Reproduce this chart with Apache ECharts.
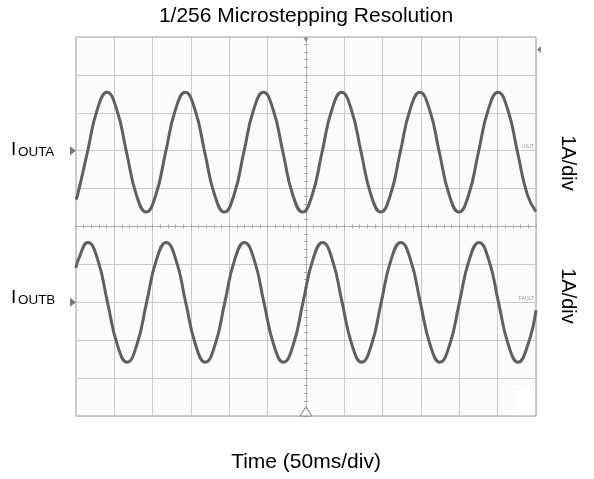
<!DOCTYPE html>
<html>
<head>
<meta charset="utf-8">
<script src="https://cdn.jsdelivr.net/npm/echarts@6/dist/echarts.min.js"></script>
<style>html,body{margin:0;padding:0;background:#fff}#c{width:594px;height:479px}</style>
</head>
<body>
<div id="c"></div>
<script>
// Time in ms (50 ms/div), current in divisions (1 A/div), channel A offset +2 div, channel B offset -2 div
var timeA = [0, 2.2, 14.9, 27.7, 40.4, 53.2, 65.9, 78.7, 91.4, 104.2, 116.9, 129.7, 142.4, 155.2, 167.9, 180.7, 193.4, 206.2, 218.9, 231.7, 244.4, 257.2, 269.9, 282.7, 295.4, 308.2, 320.9, 333.7, 346.4, 359.2, 371.9, 384.7, 397.4, 410.2, 422.9, 435.7, 448.4, 461.2, 473.9, 486.7, 499.4, 512.2, 524.9, 537.7, 550.4, 563.2, 575.9, 588.7, 600];
var ioutA = [0.71,
  0.84, 1.96, 3.08, 3.54, 3.08, 1.96, 0.84, 0.38,
  0.84, 1.96, 3.08, 3.54, 3.08, 1.96, 0.84, 0.38,
  0.84, 1.96, 3.08, 3.54, 3.08, 1.96, 0.84, 0.38,
  0.84, 1.96, 3.08, 3.54, 3.08, 1.96, 0.84, 0.38,
  0.84, 1.96, 3.08, 3.54, 3.08, 1.96, 0.84, 0.38,
  0.84, 1.96, 3.08, 3.54, 3.08, 1.96, 0.84,
  0.39];
var timeB = [0, 2.9, 15.6, 28.4, 41.1, 53.9, 66.6, 79.4, 92.1, 104.9, 117.6, 130.4, 143.1, 155.9, 168.6, 181.4, 194.1, 206.9, 219.6, 232.4, 245.1, 257.9, 270.6, 283.4, 296.1, 308.9, 321.6, 334.4, 347.1, 359.9, 372.6, 385.4, 398.1, 410.9, 423.6, 436.4, 449.1, 461.9, 474.6, 487.4, 500.1, 512.9, 525.6, 538.4, 551.1, 563.9, 576.6, 589.4, 600];
var ioutB = [-1.09,
  -0.88, -0.42, -0.88, -2.0, -3.12, -3.58, -3.12, -2.0,
  -0.88, -0.42, -0.88, -2.0, -3.12, -3.58, -3.12, -2.0,
  -0.88, -0.42, -0.88, -2.0, -3.12, -3.58, -3.12, -2.0,
  -0.88, -0.42, -0.88, -2.0, -3.12, -3.58, -3.12, -2.0,
  -0.88, -0.42, -0.88, -2.0, -3.12, -3.58, -3.12, -2.0,
  -0.88, -0.42, -0.88, -2.0, -3.12, -3.58, -3.12,
  -2.21];
var channelOffsets = [2, -2];
var titleText = '1/256 Microstepping Resolution';
var xTitle = 'Time (50ms/div)';
var scaleLabel = '1A/div';

var FONT = '"Liberation Sans", Arial, sans-serif';
var chart = echarts.init(document.getElementById('c'), null, {renderer: 'canvas'});
var rect = {left: 76, top: 37, width: 460, height: 379};
function pairs(t, v) { return t.map(function (x, i) { return [x, v[i]]; }); }
var tickAxisCommon = {
  axisLabel: {show: false}, splitLine: {show: false},
  axisLine: {show: true, onZero: true, lineStyle: {color: '#b0b0b0', width: 1}},
  axisTick: {show: true, length: 2, lineStyle: {color: '#a8a8a8'}}
};
var option = {
  animation: false,
  backgroundColor: '#ffffff',
  grid: [
    Object.assign({show: true, backgroundColor: '#fbfbfb', borderColor: '#9c9c9c', borderWidth: 1}, rect),
    Object.assign({show: false}, rect),
    Object.assign({show: false}, rect)
  ],
  xAxis: [
    {type: 'value', gridIndex: 0, min: 0, max: 600, interval: 50,
     axisLine: {show: false}, axisTick: {show: false}, axisLabel: {show: false},
     splitLine: {show: true, lineStyle: {color: '#c9c9c9', width: 1}}},
    Object.assign({type: 'value', gridIndex: 1, min: -300, max: 300, interval: 10}, tickAxisCommon,
     {axisTick: {show: true, inside: false, length: 2, lineStyle: {color: '#a8a8a8'}}}),
    Object.assign({type: 'value', gridIndex: 2, min: -300, max: 300, interval: 10}, tickAxisCommon,
     {axisTick: {show: true, inside: true, length: 2, lineStyle: {color: '#a8a8a8'}}})
  ],
  yAxis: [
    {type: 'value', gridIndex: 0, min: -5, max: 5, interval: 1,
     axisLine: {show: false}, axisTick: {show: false}, axisLabel: {show: false},
     splitLine: {show: true, lineStyle: {color: '#c9c9c9', width: 1}}},
    Object.assign({type: 'value', gridIndex: 1, min: -5, max: 5, interval: 0.2}, tickAxisCommon,
     {axisTick: {show: true, inside: false, length: 2, lineStyle: {color: '#a8a8a8'}}}),
    Object.assign({type: 'value', gridIndex: 2, min: -5, max: 5, interval: 0.2}, tickAxisCommon,
     {axisTick: {show: true, inside: true, length: 2, lineStyle: {color: '#a8a8a8'}}})
  ],
  series: [
    {type: 'line', name: 'IOUTA', xAxisIndex: 0, yAxisIndex: 0, data: pairs(timeA, ioutA),
     showSymbol: false, smooth: 0.5, lineStyle: {color: '#606060', width: 3}, z: 5},
    {type: 'line', name: 'IOUTB', xAxisIndex: 0, yAxisIndex: 0, data: pairs(timeB, ioutB),
     showSymbol: false, smooth: 0.5, lineStyle: {color: '#606060', width: 3}, z: 5},
    // channel ground markers on the left edge
    {type: 'scatter', xAxisIndex: 0, yAxisIndex: 0, clip: false, silent: true,
     data: channelOffsets.map(function (o) { return [0, o]; }),
     symbol: 'triangle', symbolRotate: -90, symbolSize: [9, 6], symbolOffset: [-3, 0],
     itemStyle: {color: '#555'}, z: 6},
    // trigger level marker on the right edge
    {type: 'scatter', xAxisIndex: 0, yAxisIndex: 0, clip: false, silent: true,
     data: [[600, 4.67]], symbol: 'triangle', symbolRotate: 90, symbolSize: [7, 4], symbolOffset: [3, 0],
     itemStyle: {color: '#666'}, z: 6},
    // trigger position marker top
    {type: 'scatter', xAxisIndex: 0, yAxisIndex: 0, clip: false, silent: true,
     data: [[300, 5]], symbol: 'triangle', symbolRotate: 180, symbolSize: [5, 4], symbolOffset: [0, 3],
     itemStyle: {color: '#777'}, z: 6},
    // bottom hollow triangle
    {type: 'scatter', xAxisIndex: 0, yAxisIndex: 0, clip: false, silent: true,
     data: [[300, -5]], symbol: 'triangle', symbolSize: [12, 9], symbolOffset: [0, -4.5],
     itemStyle: {color: '#fbfbfb', borderColor: '#808080', borderWidth: 1}, z: 6}
  ],
  graphic: [
    {type: 'rect', shape: {x: 513, y: 390, width: 22, height: 25}, style: {fill: '#ffffff'}, z: 10, silent: true},
    {type: 'text', x: 306, y: 16, style: {text: titleText, font: '21px ' + FONT, fill: '#000', align: 'center', verticalAlign: 'middle'}},
    {type: 'text', x: 306, y: 462, style: {text: xTitle, font: '21px ' + FONT, fill: '#000', align: 'center', verticalAlign: 'middle'}},
    {type: 'text', x: 568, y: 163, rotation: -Math.PI / 2, style: {text: scaleLabel, font: '20px ' + FONT, fill: '#000', align: 'center', verticalAlign: 'middle'}},
    {type: 'text', x: 568, y: 296, rotation: -Math.PI / 2, style: {text: scaleLabel, font: '20px ' + FONT, fill: '#000', align: 'center', verticalAlign: 'middle'}},
    {type: 'text', x: 11, y: 150, style: {text: 'I', font: '19px ' + FONT, fill: '#000', align: 'left', verticalAlign: 'middle'}},
    {type: 'text', x: 18, y: 153, scaleX: 1.12, style: {text: 'OUTA', font: '12px ' + FONT, fill: '#000', align: 'left', verticalAlign: 'middle'}},
    {type: 'text', x: 11, y: 298, style: {text: 'I', font: '19px ' + FONT, fill: '#000', align: 'left', verticalAlign: 'middle'}},
    {type: 'text', x: 18, y: 301, scaleX: 1.12, style: {text: 'OUTB', font: '12px ' + FONT, fill: '#000', align: 'left', verticalAlign: 'middle'}},
    {type: 'text', x: 534, y: 149, style: {text: 'IOUT', font: '5px ' + FONT, fill: '#999', align: 'right', verticalAlign: 'bottom'}},
    {type: 'text', x: 534, y: 301, style: {text: 'FAULT', font: '5px ' + FONT, fill: '#999', align: 'right', verticalAlign: 'bottom'}}
  ]
};
chart.setOption(option);
</script>
</body>
</html>
